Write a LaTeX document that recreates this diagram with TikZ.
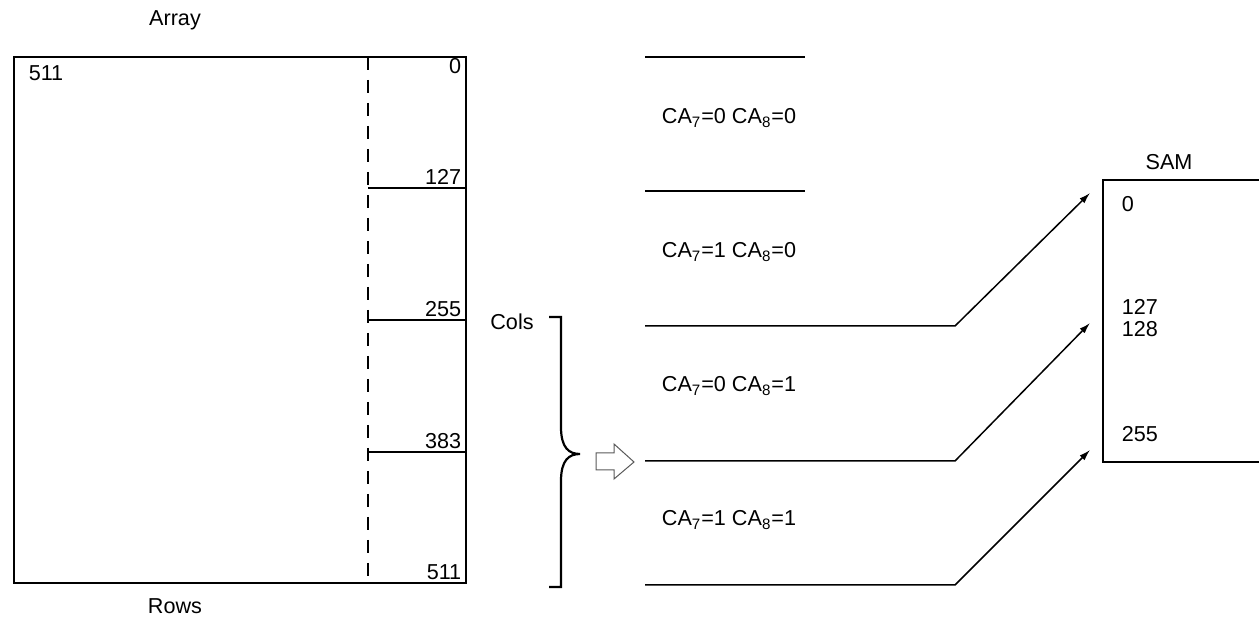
\documentclass[tikz,border=0pt]{standalone}
\usepackage{fontspec}
\setmainfont{Liberation Sans}
\usetikzlibrary{arrows.meta}

\begin{document}
\begin{tikzpicture}[x=0.5pt,y=-0.5pt,line width=0.75pt,
		font=\fontsize{10.8}{13}\selectfont,
		lbl/.style={inner sep=0pt},
		feed/.style={-{Latex[length=5.5pt,width=3.4pt]}}]
		\useasboundingbox (0,0) rectangle (1259,624);
		% ===== LEFT: Array of rows =====
		\node[lbl] (arraytitle) at (175,20) {Array};
		\draw (14,57) rectangle (466,583);
		\node[lbl] (rowsnote) at (175,606) {Rows};
		\node[lbl] (topleft) at (46,73) {511};
		\draw[dash pattern=on 6.5pt off 5pt] (368,57) -- (368,583);
		\node[lbl,anchor=east] (r0) at (462,66) {0};
		\foreach \y/\lab in {188/127, 320/255, 452/383} {
			\draw (368,\y) -- (466,\y);
			\node[lbl,anchor=east] (r\lab) at (462,\y-11) {\lab};
		}
		\node[lbl,anchor=east] (r511) at (462,572) {511};
		% ===== Brace and hollow arrow =====
		\node[lbl] (cols) at (512,322) {Cols};
		\draw[line width=1.1pt] (549,317) -- (561,317) -- (561,427)
			.. controls (561,448) and (569,454) .. (580,454)
			.. controls (569,454) and (561,460) .. (561,481) -- (561,587) -- (549,587);
		\draw[gray!70!black,line width=0.5pt] (596,453) -- (614,453) -- (614,444) -- (634,462)
			-- (614,479) -- (614,470) -- (596,470) -- cycle;
		% ===== MIDDLE: column halves =====
		\draw (645,57) -- (805,57);
		\draw (645,191) -- (805,191);
		\foreach \y/\a/\b in {118/0/0, 252/1/0, 386/0/1, 520/1/1} {
			\node[lbl] at (729,\y) {CA\textsubscript{7}=\a{} CA\textsubscript{8}=\b};
		}
		% ===== RIGHT: SAM =====
		\node[lbl] (samtitle) at (1169,162) {SAM};
		\draw (1259,180) -- (1103,180) -- (1103,462) -- (1259,462);
		\node[lbl,anchor=west] (s0) at (1121,204) {0};
		\node[lbl,anchor=west] (s127) at (1121,307) {127};
		\node[lbl,anchor=west] (s128) at (1121,329) {128};
		\node[lbl,anchor=west] (s255) at (1121,434) {255};
		% connectors to SAM
		\coordinate (h1) at (645,326); \coordinate (k1) at (955,326); \coordinate (t1) at (1090,193);
		\coordinate (h2) at (645,461); \coordinate (k2) at (955,461); \coordinate (t2) at (1090,323);
		\coordinate (h3) at (645,585); \coordinate (k3) at (955,585); \coordinate (t3) at (1090,450);
		\draw[feed] (h1) -- (k1) -- (t1);
		\draw[feed] (h2) -- (k2) -- (t2);
		\draw[feed] (h3) -- (k3) -- (t3);
	\end{tikzpicture}
\end{document}
